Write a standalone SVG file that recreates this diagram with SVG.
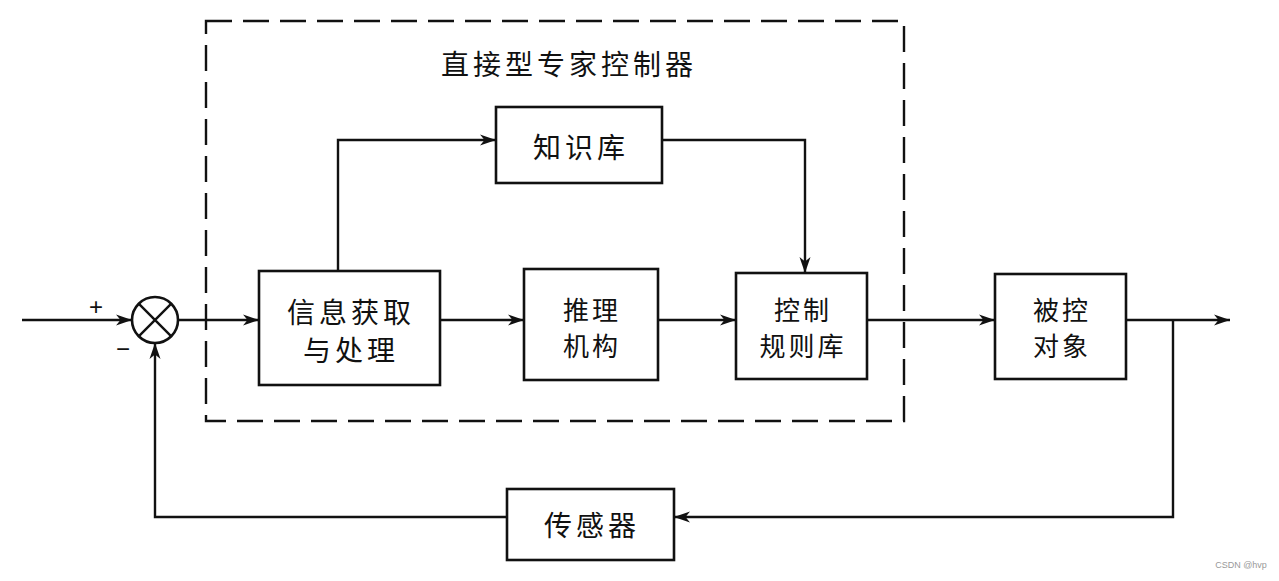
<svg xmlns="http://www.w3.org/2000/svg" width="1279" height="581" viewBox="0 0 1279 581">
<style>
.box{fill:#fff;stroke:#111;stroke-width:2.6}
.lbl{font-family:"Noto Sans CJK SC","Noto Sans CJK JP",sans-serif;font-size:28px;letter-spacing:4px;fill:#111;text-anchor:middle}
.sm{font-size:26px;letter-spacing:3px}
.ln{fill:none;stroke:#111;stroke-width:2.4}
.sign{font-family:"Liberation Sans",sans-serif;font-size:24px;fill:#111;text-anchor:middle}
</style>
<defs>
<marker id="ah" markerUnits="userSpaceOnUse" markerWidth="18" markerHeight="12" refX="16" refY="6" orient="auto">
<path d="M0,0.5 L16,6 L0,11.5 L4.5,6 Z" fill="#111"/>
</marker>
</defs>
<rect width="1279" height="581" fill="#fff"/>
<g id="controller">
<rect x="206" y="21" width="698" height="400" fill="none" stroke="#111" stroke-width="2.4" stroke-dasharray="26 11"/>
<text class="lbl" x="569" y="75">直接型专家控制器</text>
</g>
<g id="sum">
<circle cx="155" cy="320" r="23" fill="#fff" stroke="#111" stroke-width="2.6"/>
<path d="M138.7,303.7 L171.3,336.3 M171.3,303.7 L138.7,336.3" stroke="#111" stroke-width="2.4"/>
<text class="sign" x="96" y="315">+</text>
<text class="sign" x="123" y="357">−</text>
</g>
<g id="info">
<rect class="box" x="259" y="271" width="181" height="114"/>
<text class="lbl" x="351" y="323">信息获取</text>
<text class="lbl" x="351" y="361">与处理</text>
</g>
<g id="kb">
<rect class="box" x="496" y="107" width="166" height="76"/>
<text class="lbl" x="581" y="158">知识库</text>
</g>
<g id="infer">
<rect class="box" x="524" y="269" width="134" height="111"/>
<text class="lbl sm" x="592" y="320">推理</text>
<text class="lbl sm" x="592" y="356">机构</text>
</g>
<g id="rules">
<rect class="box" x="736" y="273" width="131" height="106"/>
<text class="lbl sm" x="803" y="320">控制</text>
<text class="lbl sm" x="803" y="356">规则库</text>
</g>
<g id="plant">
<rect class="box" x="995" y="274" width="131" height="105"/>
<text class="lbl sm" x="1062" y="320">被控</text>
<text class="lbl sm" x="1062" y="356">对象</text>
</g>
<g id="sensor">
<rect class="box" x="507" y="489" width="167" height="71"/>
<text class="lbl" x="592" y="536">传感器</text>
</g>
<g id="connectors">
<path class="ln" d="M22,320 H132" marker-end="url(#ah)"/>
<path class="ln" d="M178,320 H259" marker-end="url(#ah)"/>
<path class="ln" d="M440,320 H524" marker-end="url(#ah)"/>
<path class="ln" d="M658,320 H736" marker-end="url(#ah)"/>
<path class="ln" d="M867,320 H995" marker-end="url(#ah)"/>
<path class="ln" d="M1126,320 H1230" marker-end="url(#ah)"/>
<path class="ln" d="M1173,320 V517 H674" marker-end="url(#ah)"/>
<path class="ln" d="M507,517 H155 V343" marker-end="url(#ah)"/>
<path class="ln" d="M338,271 V140 H496" marker-end="url(#ah)"/>
<path class="ln" d="M662,140 H805 V273" marker-end="url(#ah)"/>
</g>
<text x="1241" y="568" font-family="Liberation Sans, sans-serif" font-size="9" fill="#999" text-anchor="middle">CSDN @hvp</text>
</svg>
